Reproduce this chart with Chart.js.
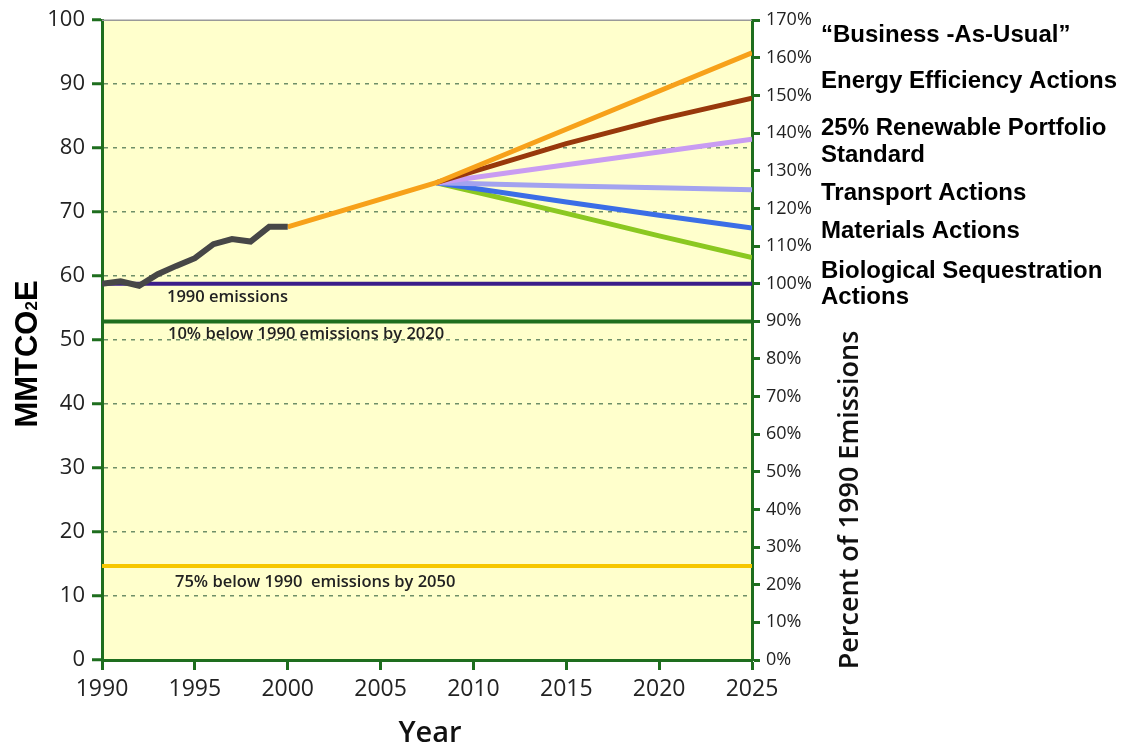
<!DOCTYPE html>
<html>
<head>
<meta charset="utf-8">
<script src="https://cdn.jsdelivr.net/npm/chart.js@4.4.1/dist/chart.umd.min.js"></script>
<style>
  html, body { margin: 0; padding: 0; background: #fff; }
  #wrap { width: 1130px; height: 749px; }
</style>
</head>
<body>
<div id="wrap"><canvas id="co2Chart"></canvas></div>
<script>
// historical emissions (MMTCO2E)
const histYears = [1990, 1991, 1992, 1993, 1994, 1995, 1996, 1997, 1998, 1999, 2000];
const histValues = [58.8, 59.2, 58.5, 60.3, 61.6, 62.8, 65.0, 65.8, 65.4, 67.7, 67.7];

// projections
const bauYears = [2000, 2008, 2025];
const bauValues = [67.7, 74.6, 94.9];
const scenarioYears = [2008, 2015, 2020, 2025];
const efficiencyValues = [74.6, 80.7, 84.5, 87.8];
const renewableValues = [74.6, 77.4, 79.4, 81.4];
const transportValues = [74.6, 74.1, 73.8, 73.5];
const materialsValues = [74.6, 71.6, 69.5, 67.5];
const sequestrationValues = [74.6, 69.8, 66.3, 62.9];

// targets
const targetYears = [1990, 2025];
const base1990 = 58.8;
const target2020 = 52.9;
const target2050 = 14.7;

const scenarioLabels = [
    ['\u201CBusiness -As-Usual\u201D', 42],
    ['Energy Efficiency Actions', 88],
    ['25% Renewable Portfolio', 135],
    ['Standard', 162],
    ['Transport Actions', 200],
    ['Materials Actions', 238],
    ['Biological Sequestration', 278],
    ['Actions', 304]
];

function pts(xs, ys) {
    return xs.map((x, i) => ({ x: x, y: ys[i] }));
}
function flat(v) {
    return targetYears.map(x => ({ x: x, y: v }));
}

const green = '#1e6e1e';

const decorPlugin = {
    id: 'decor',
    beforeDraw(chart) {
        const { ctx, chartArea: a } = chart;
        ctx.save();
        ctx.fillStyle = '#ffffcc';
        ctx.fillRect(a.left, a.top, a.right - a.left, a.bottom - a.top);
        ctx.restore();
    },
    afterDraw(chart) {
        const { ctx, chartArea: a } = chart;
        const y = chart.scales.y;
        ctx.save();
        // top border
        ctx.strokeStyle = '#999';
        ctx.lineWidth = 1.5;
        ctx.beginPath();
        ctx.moveTo(a.left, a.top);
        ctx.lineTo(a.right, a.top);
        ctx.stroke();

        // annotations inside plot
        ctx.fillStyle = '#222';
        ctx.font = '600 16.5px "Open Sans"';
        ctx.textBaseline = 'middle';
        ctx.textAlign = 'left';
        ctx.fillText('1990 emissions', 167, y.getPixelForValue(base1990) + 13);
        ctx.fillText('10% below 1990 emissions by 2020', 168, y.getPixelForValue(target2020) + 13);
        ctx.fillText('75% below 1990  emissions by 2050', 175, y.getPixelForValue(target2050) + 16);

        // scenario labels
        ctx.fillStyle = '#000';
        ctx.font = 'bold 24px "Liberation Sans", Arial';
        ctx.textBaseline = 'alphabetic';
        scenarioLabels.forEach(l => ctx.fillText(l[0], 821, l[1]));

        // x title
        ctx.fillStyle = '#111';
        ctx.font = '600 29px "Open Sans"';
        ctx.textAlign = 'center';
        ctx.textBaseline = 'middle';
        ctx.fillText('Year', 430, 734);

        // right title
        ctx.save();
        ctx.translate(850, 500);
        ctx.rotate(-Math.PI / 2);
        ctx.font = '600 27px "Open Sans"';
        ctx.fillText('Percent of 1990 Emissions', 0, 0);
        ctx.restore();

        // left title MMTCO2E
        ctx.save();
        ctx.translate(37, 354);
        ctx.rotate(-Math.PI / 2);
        ctx.fillStyle = '#000';
        ctx.textAlign = 'left';
        ctx.textBaseline = 'alphabetic';
        const big = 'bold 31px "Liberation Sans", Arial';
        const small = 'bold 17px "Liberation Sans", Arial';
        ctx.font = big;
        const w1 = ctx.measureText('MMTCO').width;
        ctx.font = small;
        const w2 = ctx.measureText('2').width;
        ctx.font = big;
        const w3 = ctx.measureText('E').width;
        let sx = -(w1 + w2 + w3) / 2;
        ctx.fillText('MMTCO', sx, 0);
        ctx.font = small;
        ctx.fillText('2', sx + w1, 0);
        ctx.font = big;
        ctx.fillText('E', sx + w1 + w2, 0);
        ctx.restore();

        ctx.restore();
    }
};

function line(data, color, width) {
    return {
        data: data,
        borderColor: color,
        borderWidth: width,
        pointRadius: 0,
        tension: 0,
        fill: false
    };
}

const ctx = document.getElementById('co2Chart').getContext('2d');
const co2Chart = new Chart(ctx, {
    type: 'line',
    data: {
        datasets: [
            line(pts(histYears, histValues), '#474747', 6),
            line(pts(bauYears, bauValues), '#f7a11a', 5),
            line(pts(scenarioYears, efficiencyValues), '#98380b', 5),
            line(pts(scenarioYears, renewableValues), '#c99cf2', 5),
            line(pts(scenarioYears, transportValues), '#a3a3ef', 5),
            line(pts(scenarioYears, materialsValues), '#3b6ee6', 5),
            line(pts(scenarioYears, sequestrationValues), '#8bc821', 5),
            line(flat(base1990), '#3b1d8a', 4),
            line(flat(target2020), green, 4),
            line(flat(target2050), '#f6c700', 4)
        ]
    },
    options: {
        responsive: true,
        maintainAspectRatio: false,
        animation: false,
        layout: { padding: { top: 19, left: 0, right: 0, bottom: 0 } },
        plugins: {
            legend: { display: false },
            tooltip: { enabled: false }
        },
        scales: {
            x: {
                type: 'linear',
                min: 1990,
                max: 2025,
                afterFit(s) { s.height = 89; },
                ticks: {
                    stepSize: 5,
                    color: '#222',
                    padding: 6,
                    font: { family: 'Open Sans', size: 23 },
                    callback: v => String(v)
                },
                grid: {
                    drawOnChartArea: false,
                    tickLength: 10,
                    tickColor: green,
                    tickWidth: 3
                },
                border: { color: green, width: 3 }
            },
            y: {
                position: 'left',
                min: 0,
                max: 100,
                afterFit(s) { s.width = 102; },
                ticks: {
                    stepSize: 10,
                    color: '#222',
                    padding: 7,
                    font: { family: 'Open Sans', size: 22 }
                },
                grid: {
                    color: c => (c.tick.value > 0 && c.tick.value < 100) ? '#6f8f68' : 'rgba(0,0,0,0)',
                    lineWidth: 1.5,
                    tickLength: 10,
                    tickColor: green,
                    tickWidth: 3,
                    tickBorderDash: []
                },
                border: { color: green, width: 3, dash: [4, 5] }
            },
            y1: {
                position: 'right',
                min: 0,
                max: 170,
                afterFit(s) { s.width = 378; },
                ticks: {
                    stepSize: 10,
                    color: '#222',
                    padding: 6,
                    font: { family: 'Open Sans', size: 18 },
                    callback: v => v + '%'
                },
                grid: {
                    drawOnChartArea: false,
                    tickLength: 8,
                    tickColor: green,
                    tickWidth: 3
                },
                border: { color: green, width: 3 }
            }
        }
    },
    plugins: [decorPlugin]
});
</script>
</body>
</html>
